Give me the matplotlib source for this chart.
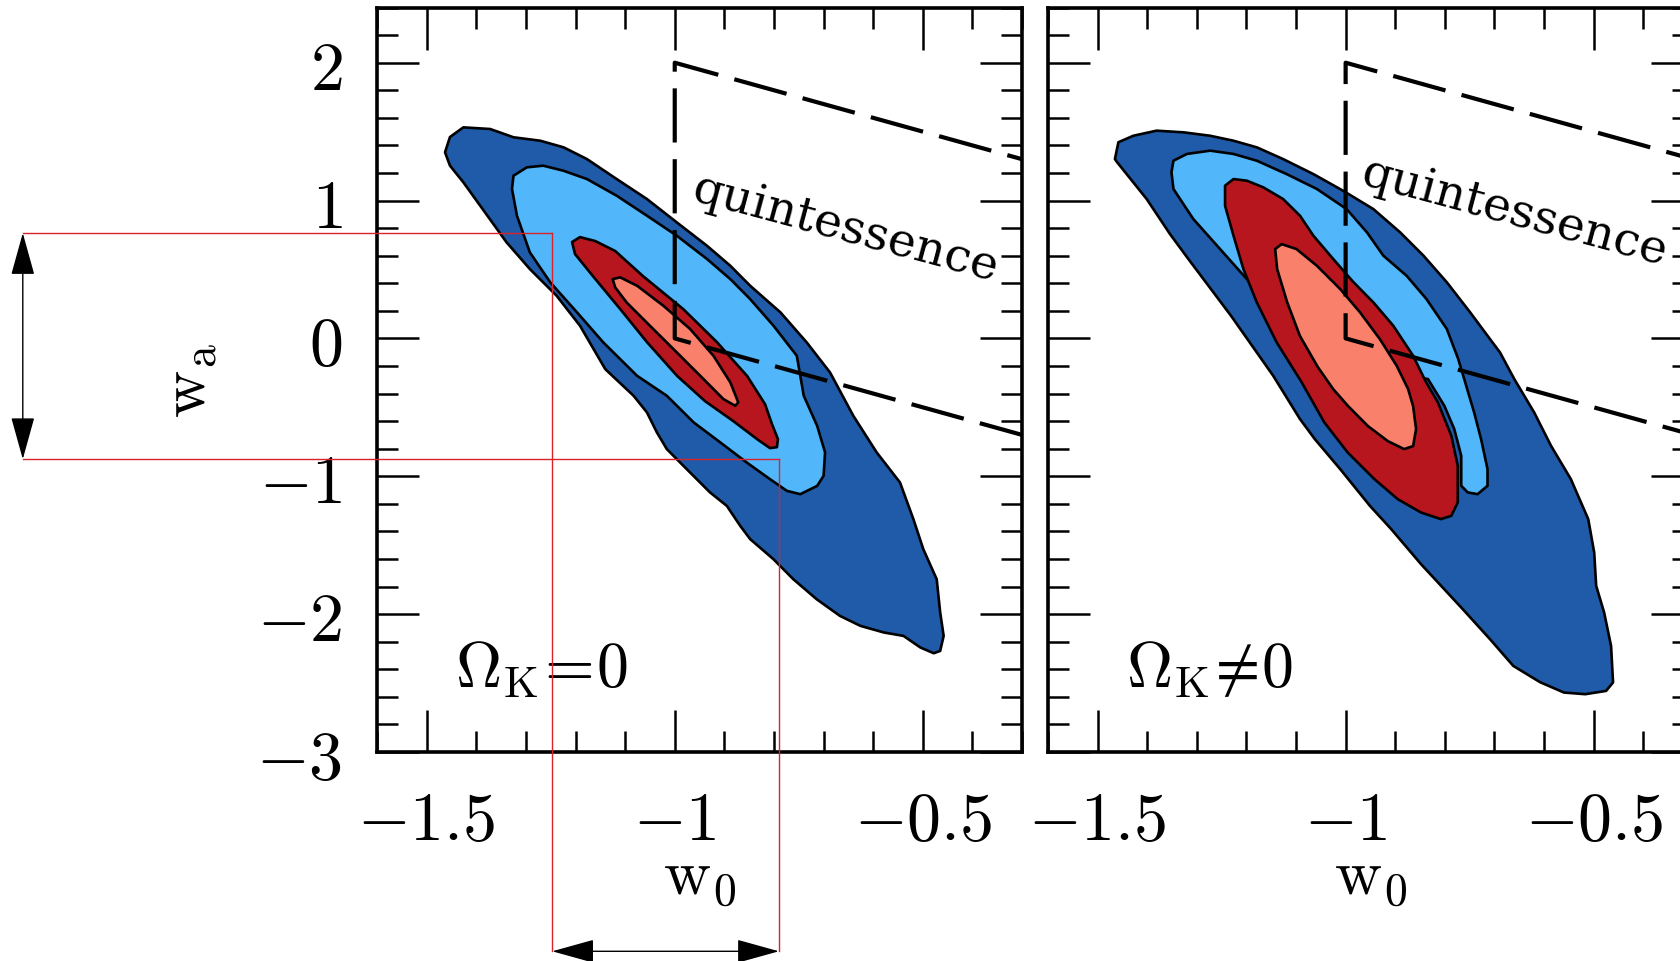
#!/usr/bin/env python3
# -*- coding: utf-8 -*-
"""
w0-wa constraints for flat (Omega_K = 0) and curved (Omega_K != 0) models,
two data combinations (blue, red), with the quintessence region marked.
"""

import matplotlib
matplotlib.use('Agg')
import matplotlib.pyplot as plt
from matplotlib.ticker import MultipleLocator
from matplotlib.patches import ArrowStyle

# axis ticks
w0_ticks = [-1.5, -1.0, -0.5]
w0_ticklabels = ['$-1.5$', '$-1$', '$-0.5$']
wa_ticks = [-3, -2, -1, 0, 1, 2]
wa_ticklabels = ['$-3$', '$-2$', '$-1$', '$0$', '$1$', '$2$']

# quintessence region boundary: w0 >= -1, -(1 + w0) <= wa <= 1 - w0
quint_w0 = [-0.3, -1.0, -1.0, -0.3]
quint_wa = [1.3, 2.0, 0.0, -0.7]

# --- flat panel contours ---
flat_blue2_w0 = [-1.463, -1.453, -1.426, -1.372, -1.325, -1.271, -1.224, -1.177, -1.117, -1.056,
                 -0.996, -0.935, -0.888, -0.848, -0.787, -0.734, -0.687, -0.640, -0.593, -0.546,
                 -0.519, -0.499, -0.472, -0.465, -0.458, -0.465, -0.478, -0.505, -0.539, -0.579,
                 -0.626, -0.667, -0.714, -0.761, -0.801, -0.848, -0.868, -0.895, -0.929, -0.976,
                 -1.016, -1.036, -1.056, -1.083, -1.140, -1.191, -1.238, -1.292, -1.339, -1.392,
                 -1.426, -1.453]
flat_blue2_wa = [1.350, 1.461, 1.531, 1.519, 1.459, 1.434, 1.386, 1.301, 1.156, 1.011,
                 0.842, 0.672, 0.527, 0.382, 0.189, -0.029, -0.247, -0.562, -0.827, -1.045,
                 -1.311, -1.529, -1.747, -1.988, -2.158, -2.267, -2.284, -2.242, -2.158, -2.133,
                 -2.085, -2.013, -1.892, -1.747, -1.602, -1.456, -1.360, -1.215, -1.117, -0.948,
                 -0.803, -0.682, -0.537, -0.416, -0.223, 0.092, 0.309, 0.503, 0.697, 0.962,
                 1.132, 1.253]

flat_blue1_w0 = [-1.325, -1.298, -1.265, -1.224, -1.177, -1.117, -1.056, -0.996, -0.935, -0.888,
                 -0.848, -0.801, -0.754, -0.740, -0.713, -0.697, -0.700, -0.713, -0.747, -0.774,
                 -0.808, -0.855, -0.908, -0.962, -1.016, -1.076, -1.144, -1.197, -1.251, -1.292,
                 -1.318, -1.328]
flat_blue1_wa = [1.180, 1.241, 1.253, 1.216, 1.156, 1.035, 0.890, 0.745, 0.576, 0.430,
                 0.285, 0.092, -0.126, -0.416, -0.634, -0.827, -0.997, -1.070, -1.130, -1.106,
                 -1.021, -0.900, -0.755, -0.609, -0.416, -0.271, -0.029, 0.189, 0.407, 0.624,
                 0.890, 1.084]

flat_red2_w0 = [-1.207, -1.191, -1.160, -1.120, -1.064, -0.983, -0.915, -0.854, -0.818, -0.804,
                -0.792, -0.794, -0.808, -0.834, -0.882, -0.939, -0.995, -1.056, -1.110, -1.165,
                -1.201]
flat_red2_wa = [0.699, 0.735, 0.706, 0.634, 0.452, 0.213, -0.027, -0.273, -0.477, -0.622,
                -0.731, -0.789, -0.796, -0.731, -0.600, -0.455, -0.273, -0.027, 0.213, 0.452,
                0.612]

flat_red1_w0 = [-1.125, -1.110, -1.076, -1.023, -0.969, -0.922, -0.888, -0.872, -0.878, -0.902,
                -0.942, -0.996, -1.050, -1.097, -1.120]
flat_red1_wa = [0.430, 0.443, 0.382, 0.237, 0.068, -0.126, -0.319, -0.464, -0.489, -0.440,
                -0.295, -0.101, 0.092, 0.261, 0.370]

# --- curved panel contours ---
curv_blue2_w0 = [-1.465, -1.461, -1.401, -1.354, -1.317, -1.231, -1.146, -1.092, -1.062, -1.011,
                 -0.951, -0.908, -0.848, -0.764, -0.709, -0.662, -0.608, -0.560, -0.517, -0.475,
                 -0.461, -0.465, -0.479, -0.495, -0.499, -0.511, -0.546, -0.586, -0.620, -0.660,
                 -0.689, -0.709, -0.749, -0.796, -0.843, -0.890, -0.944, -1.005, -1.065, -1.126,
                 -1.179, -1.226, -1.273, -1.327, -1.381, -1.428, -1.458]
curv_blue2_wa = [1.301, 1.280, 1.011, 0.757, 0.576, 0.164, -0.271, -0.585, -0.731, -0.948,
                 -1.215, -1.384, -1.638, -1.964, -2.182, -2.376, -2.494, -2.569, -2.581, -2.557,
                 -2.496, -2.231, -1.988, -1.795, -1.553, -1.311, -1.021, -0.779, -0.537, -0.295,
                 -0.101, -0.005, 0.189, 0.407, 0.600, 0.769, 0.938, 1.071, 1.192, 1.301,
                 1.386, 1.434, 1.470, 1.495, 1.507, 1.470, 1.423]

curv_blue1_w0 = [-1.351, -1.347, -1.320, -1.273, -1.226, -1.179, -1.119, -1.058, -0.998, -0.957,
                 -0.924, -0.877, -0.837, -0.796, -0.773, -0.761, -0.741, -0.727, -0.714, -0.714,
                 -0.734, -0.754, -0.767, -0.767, -0.781, -0.801, -0.834, -0.890, -0.991, -1.092,
                 -1.179, -1.199, -1.253, -1.307, -1.347]
curv_blue1_wa = [1.205, 1.289, 1.338, 1.362, 1.338, 1.289, 1.192, 1.084, 0.938, 0.769,
                 0.600, 0.454, 0.285, 0.068, -0.150, -0.295, -0.537, -0.731, -0.948, -1.069,
                 -1.130, -1.117, -1.069, -0.852, -0.658, -0.489, -0.295, -0.259, -0.150, 0.068,
                 0.358, 0.430, 0.648, 0.866, 1.084]

curv_red2_w0 = [-1.243, -1.226, -1.199, -1.166, -1.126, -1.092, -1.065, -1.025, -0.984, -0.944,
                -0.904, -0.864, -0.838, -0.814, -0.787, -0.774, -0.774, -0.787, -0.808, -0.848,
                -0.895, -0.942, -0.996, -1.043, -1.090, -1.139, -1.179, -1.206, -1.226, -1.243]
curv_red2_wa = [1.108, 1.156, 1.144, 1.096, 1.011, 0.890, 0.745, 0.576, 0.407, 0.261,
                0.092, -0.126, -0.317, -0.464, -0.706, -0.924, -1.190, -1.287, -1.311, -1.263,
                -1.166, -1.021, -0.827, -0.609, -0.310, -0.029, 0.261, 0.503, 0.745, 0.962]

curv_red1_w0 = [-1.142, -1.129, -1.099, -1.058, -1.011, -0.971, -0.931, -0.897, -0.874, -0.864,
                -0.858, -0.864, -0.882, -0.915, -0.955, -0.995, -1.025, -1.056, -1.092, -1.118,
                -1.138]
curv_red1_wa = [0.648, 0.684, 0.648, 0.527, 0.358, 0.189, -0.005, -0.199, -0.368, -0.491,
                -0.658, -0.781, -0.803, -0.745, -0.636, -0.491, -0.368, -0.208, 0.017, 0.264,
                0.503]

# guide lines drawn over the flat panel (red box + double arrows)
guide_w0 = [-1.247, -0.790]
guide_wa = [0.764, -0.876]
guide_arrow_w0 = -2.314
guide_arrow_wa = -4.446

fill_colours = ['#1f5ba8', '#52b6fa', '#b8161e', '#f9806a']


def draw_panel(ax, contours, label, quint_xy):
    for (w0, wa), colour in zip(contours, fill_colours):
        ax.fill(w0, wa, facecolor=colour, edgecolor='black', lw=1.9,
                joinstyle='round', zorder=2)
    ax.plot(quint_w0, quint_wa, color='black', lw=3.0,
            linestyle=(28, (39, 12)), dash_capstyle='butt', zorder=3)
    ax.text(quint_xy[0], quint_xy[1], 'quintessence', family='DejaVu Serif',
            fontsize=34, rotation=-15, rotation_mode='anchor',
            ha='center', va='center', zorder=4)
    ax.text(-1.443, -2.523, label, fontsize=46, ha='left', va='baseline', zorder=4)

    ax.set_xlim(-1.6, -0.3)
    ax.set_ylim(-3.0, 2.4)
    ax.set_xticks(w0_ticks, w0_ticklabels)
    ax.set_yticks(wa_ticks, wa_ticklabels)
    ax.xaxis.set_minor_locator(MultipleLocator(0.1))
    ax.yaxis.set_minor_locator(MultipleLocator(0.2))
    ax.tick_params(which='both', direction='in', top=True, right=True,
                   width=1.8, labelsize=49, pad=25)
    ax.tick_params(which='major', length=30)
    ax.tick_params(which='minor', length=15)
    for sp in ax.spines.values():
        sp.set_linewidth(2.6)
    ax.set_xlabel(r'$\mathrm{w_0}$', fontsize=47)
    ax.xaxis.set_label_coords(0.5, -0.125)


def main():
    plt.rcParams['mathtext.fontset'] = 'cm'
    plt.rcParams['lines.scale_dashes'] = False

    fig = plt.figure(figsize=(16.81, 9.62), dpi=100)
    ax1 = fig.add_axes([0.2243, 0.2173, 0.3837, 0.7738])
    ax2 = fig.add_axes([0.6234, 0.2173, 0.3837, 0.7738])

    flat = [(flat_blue2_w0, flat_blue2_wa), (flat_blue1_w0, flat_blue1_wa),
            (flat_red2_w0, flat_red2_wa), (flat_red1_w0, flat_red1_wa)]
    curved = [(curv_blue2_w0, curv_blue2_wa), (curv_blue1_w0, curv_blue1_wa),
              (curv_red2_w0, curv_red2_wa), (curv_red1_w0, curv_red1_wa)]

    draw_panel(ax1, flat, r'$\Omega_{\mathrm{K}}\!=\!0$', (-0.655, 0.80))
    draw_panel(ax2, curved, r'$\Omega_{\mathrm{K}}\!\neq\!0$', (-0.660, 0.915))

    ax1.set_ylabel(r'$\mathrm{w_a}$', fontsize=47)
    ax1.yaxis.set_label_coords(-0.245, 0.5)
    ax2.tick_params(labelleft=False)

    # red guide lines and arrows on the flat panel
    red = '#d8232a'
    ax1.plot([guide_arrow_w0, guide_w0[0]], [guide_wa[0], guide_wa[0]],
             color=red, lw=1.0, clip_on=False, zorder=6)
    ax1.plot([guide_arrow_w0, guide_w0[1]], [guide_wa[1], guide_wa[1]],
             color=red, lw=1.0, clip_on=False, zorder=6)
    ax1.plot([guide_w0[0], guide_w0[0]], [guide_wa[0], guide_arrow_wa],
             color=red, lw=1.0, clip_on=False, zorder=6)
    ax1.plot([guide_w0[1], guide_w0[1]], [guide_wa[1], guide_arrow_wa],
             color=red, lw=1.0, clip_on=False, zorder=6)

    style = ArrowStyle('<|-|>', head_length=1.8, head_width=0.5)
    arrow = dict(arrowstyle=style, mutation_scale=15, color='black', lw=1.0,
                 shrinkA=0, shrinkB=0)
    ax1.annotate('', xy=(guide_arrow_w0, guide_wa[0]),
                 xytext=(guide_arrow_w0, guide_wa[1]),
                 arrowprops=arrow, annotation_clip=False, zorder=7)
    ax1.annotate('', xy=(guide_w0[0], guide_arrow_wa),
                 xytext=(guide_w0[1], guide_arrow_wa),
                 arrowprops=arrow, annotation_clip=False, zorder=7)

    fig.savefig('out.png', dpi=100)


if __name__ == '__main__':
    main()
